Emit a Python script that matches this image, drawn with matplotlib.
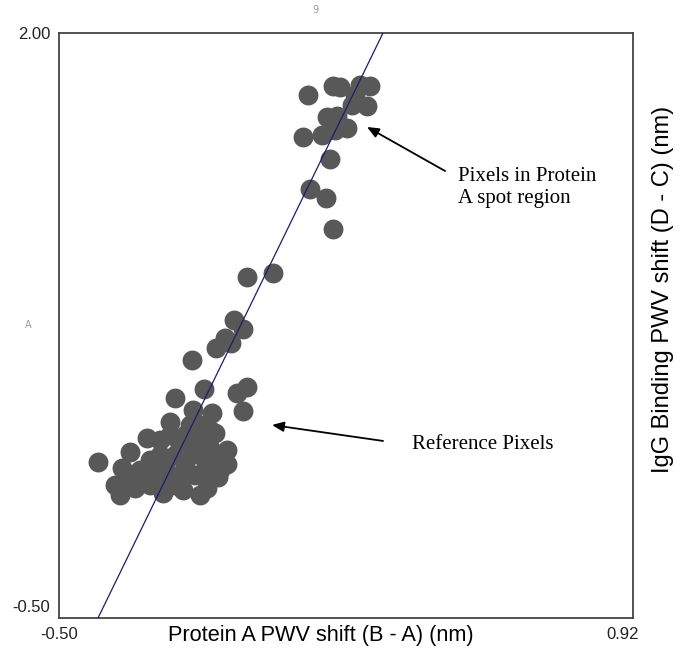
import numpy as np
import matplotlib.pyplot as plt
from matplotlib.transforms import ScaledTranslation

# pixel shifts (nm)
protein_a_shift = [
    # protein A spot pixels
    0.116, 0.178, 0.195, 0.245, 0.269, 0.262, 0.225, 0.232, 0.163, 0.188,
    0.213, 0.190, 0.104, 0.151, 0.183, 0.170, 0.121, 0.161, 0.178,
    -0.035, 0.029,
    # middle
    -0.067, -0.045, -0.089, -0.112, -0.074, -0.171, -0.141, -0.035, -0.060, -0.045,
    # reference cluster
    -0.213, -0.225, -0.168, -0.121, -0.114, -0.282, -0.324, -0.404, -0.344, -0.361,
    -0.094, -0.107, -0.134, -0.243, -0.300, -0.193, -0.084,
    -0.176, -0.151, -0.201, -0.250, -0.287, -0.238, -0.188, -0.139, -0.164, -0.213,
    -0.275, -0.312, -0.349, -0.176, -0.126, -0.250, -0.151, -0.114,
    -0.225, -0.188, -0.151, -0.213, -0.263, -0.324, -0.201, -0.139, -0.114, -0.164,
    -0.238, -0.300, -0.337, -0.126, -0.102, -0.275, -0.084,
]
igg_shift = [
    1.735, 1.773, 1.769, 1.778, 1.773, 1.688, 1.692, 1.735, 1.641, 1.645,
    1.594, 1.607, 1.556, 1.564, 1.585, 1.461, 1.333, 1.295, 1.162,
    0.957, 0.974,
    0.773, 0.735, 0.696, 0.654, 0.675, 0.602, 0.478, 0.487, 0.461, 0.384,
    0.440, 0.337, 0.389, 0.376, 0.290, 0.269, 0.209, 0.166, 0.141, 0.068,
    0.175, 0.102, 0.055, 0.034, 0.077, 0.047, 0.218,
    0.325, 0.260, 0.239, 0.196, 0.132, 0.111, 0.154, 0.175, 0.111, 0.068,
    0.068, 0.055, 0.025, 0.196, 0.226, 0.260, 0.025, 0.141,
    0.282, 0.282, 0.325, 0.196, 0.132, 0.111, 0.111, 0.111, 0.196, 0.239,
    0.154, 0.132, 0.068, 0.303, 0.132, 0.175, 0.160,
]

fit_slope = 3.546
fit_intercept = 0.931

x_range = [-0.50, 0.92]
y_range = [-0.50, 2.00]
x_tick_labels = ["-0.50", "0.92"]
y_tick_labels = ["-0.50", "2.00"]

fig = plt.figure(figsize=(6.84, 6.57), dpi=100)
ax = fig.add_axes([0.0863, 0.0594, 0.8392, 0.8904])

ax.scatter(protein_a_shift, igg_shift, s=205, color="#585858", linewidths=0, zorder=2)
ax.axline((0, fit_intercept), slope=fit_slope, color="#1c1c6c", lw=0.9, zorder=3)

ax.set_xlim(x_range)
ax.set_ylim(y_range)

for sp in ax.spines.values():
    sp.set_color("#444444")
    sp.set_linewidth(1.3)

ax.set_xticks(x_range)
ax.set_xticklabels(x_tick_labels, fontsize=12, family="Liberation Sans", color="#222222")
ax.set_yticks(y_range)
ax.set_yticklabels(y_tick_labels, fontsize=12, family="Liberation Sans", color="#222222")
ax.tick_params(length=0, pad=6.5)

# nudge the tick labels the way the original software placed them
xl = ax.get_xticklabels()
xl[1].set_transform(xl[1].get_transform() + ScaledTranslation(-10 / 100, 0, fig.dpi_scale_trans))
yl = ax.get_yticklabels()
yl[0].set_transform(yl[0].get_transform() + ScaledTranslation(0, 12 / 100, fig.dpi_scale_trans))

fig.text(0.469, 0.032, "Protein A PWV shift (B - A) (nm)", fontsize=15.7,
         family="Liberation Sans", ha="center", va="center")
fig.text(0.969, 0.559, "IgG Binding PWV shift (D - C) (nm)", fontsize=17,
         family="Liberation Sans", rotation=90, ha="center", va="center")

# small leftover labels
fig.text(0.4605, 0.985, "9", fontsize=7, color="#999999", ha="center", va="center")
fig.text(0.041, 0.505, "A", fontsize=7, color="#999999", ha="center", va="center")

arrow = dict(arrowstyle="-|>,head_length=0.7,head_width=0.3", color="black", lw=1.3,
             shrinkA=0, shrinkB=0)
ax.annotate("", xy=(0.5366, 0.8393), xytext=(0.6725, 0.7641),
            xycoords="axes fraction", arrowprops=arrow)
ax.text(0.6951, 0.7359, "Pixels in Protein\nA spot region", transform=ax.transAxes,
        fontsize=15, family="Liberation Serif", ha="left", va="center", linespacing=1.2)

ax.annotate("", xy=(0.3711, 0.3299), xytext=(0.5645, 0.3026),
            xycoords="axes fraction", arrowprops=arrow)
ax.text(0.615, 0.2957, "Reference Pixels", transform=ax.transAxes,
        fontsize=15, family="Liberation Serif", ha="left", va="center")

fig.savefig("out.png", dpi=100)
